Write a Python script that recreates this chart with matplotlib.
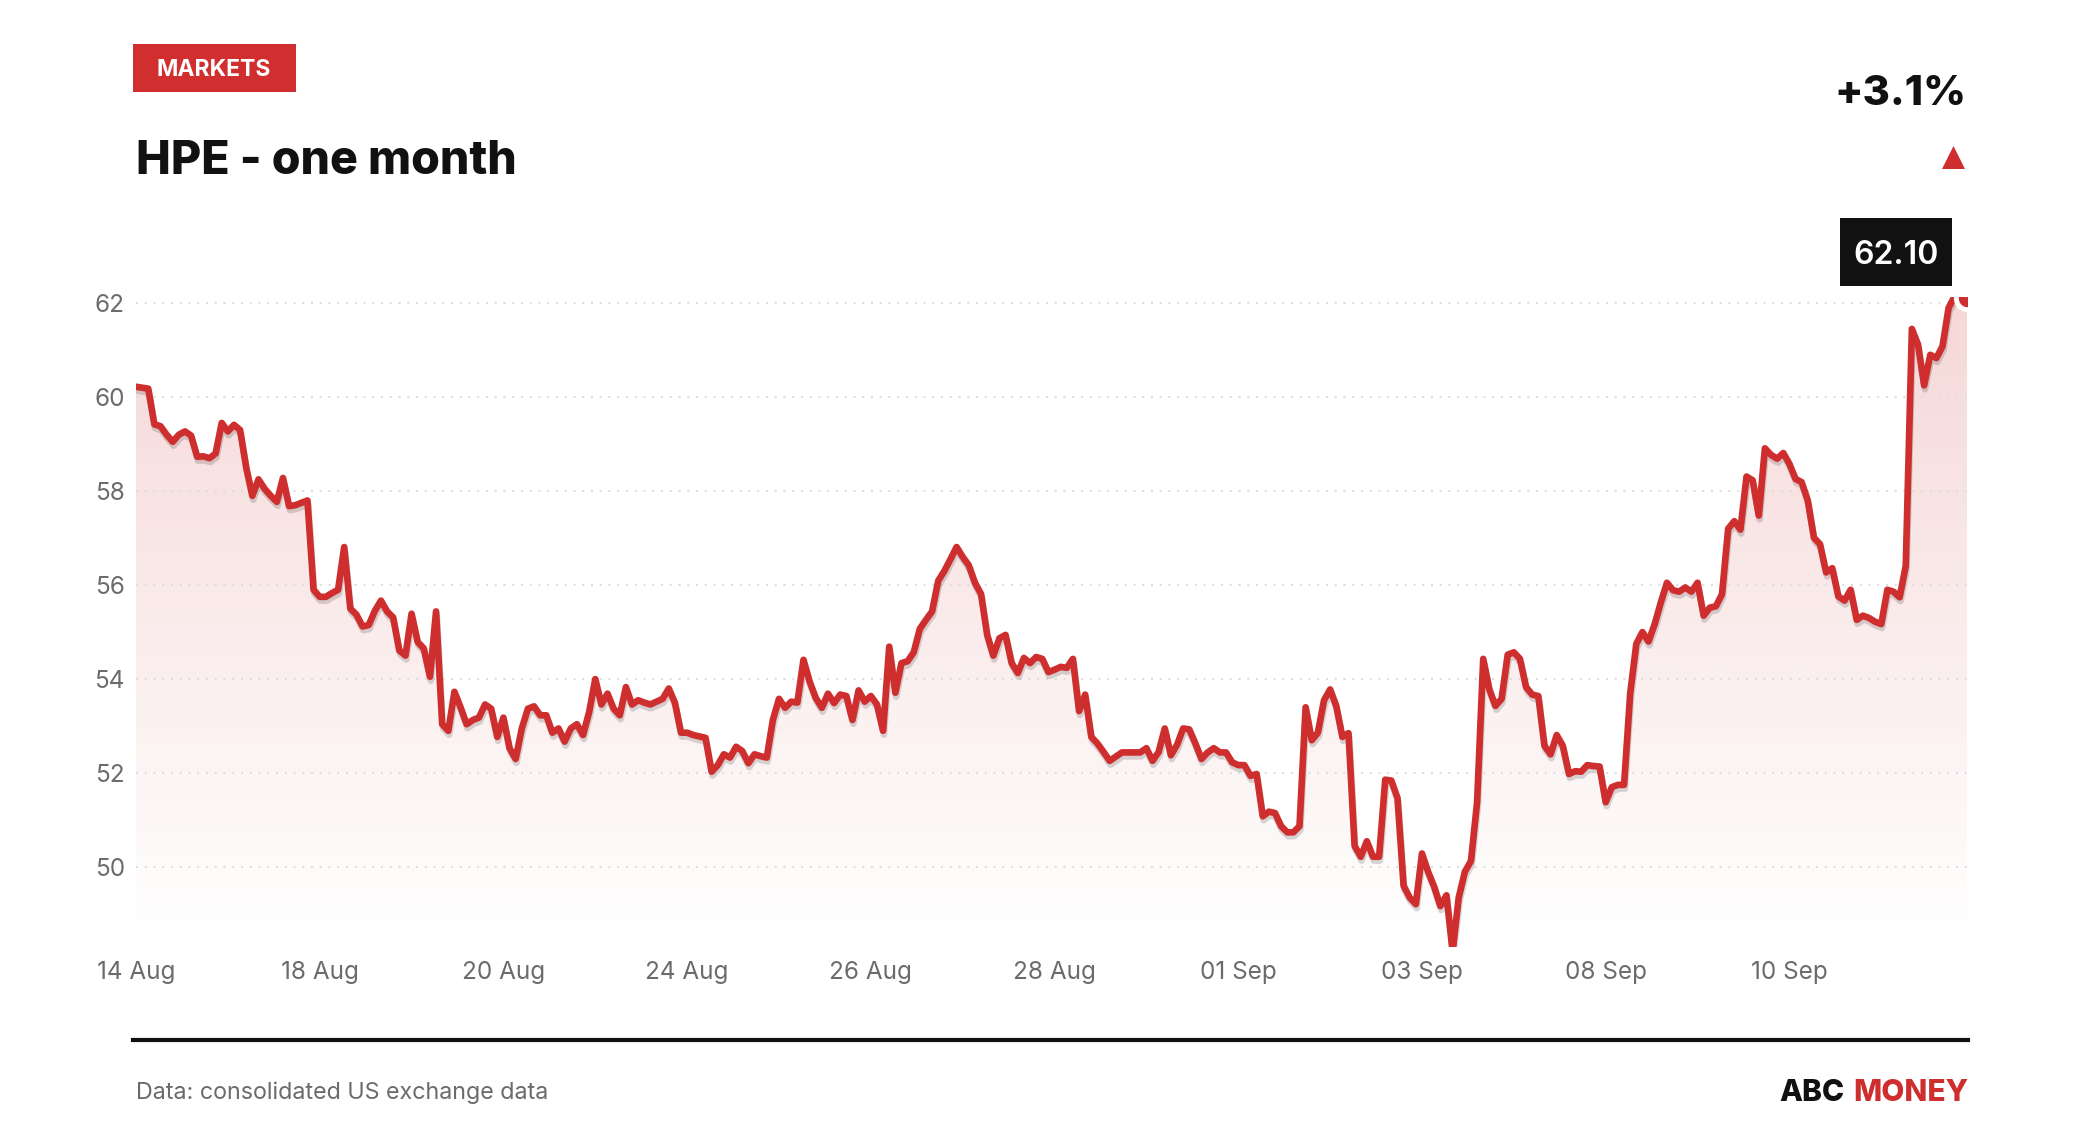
import matplotlib
matplotlib.use("Agg")
import matplotlib.pyplot as plt
import matplotlib.patheffects as pe
from matplotlib.patches import Rectangle, Polygon
import numpy as np

plt.rcParams['font.family'] = ['Inter', 'DejaVu Sans']

# HPE closing prices, one month
prices = [
    60.22, 60.20, 60.18, 59.42, 59.38, 59.20, 59.05, 59.20, 59.27, 59.18,
    58.73, 58.74, 58.70, 58.80, 59.45, 59.27, 59.41, 59.30, 58.50, 57.90,
    58.25, 58.05, 57.90, 57.77, 58.28, 57.68, 57.70, 57.75, 57.80, 55.90,
    55.75, 55.75, 55.83, 55.90, 56.81, 55.50, 55.37, 55.12, 55.15, 55.45,
    55.67, 55.44, 55.31, 54.61, 54.50, 55.39, 54.79, 54.65, 54.05, 55.44,
    53.04, 52.90, 53.73, 53.40, 53.04, 53.13, 53.18, 53.46, 53.37, 52.77,
    53.18, 52.53, 52.30, 52.95, 53.37, 53.42, 53.23, 53.23, 52.86, 52.95,
    52.67, 52.95, 53.04, 52.81, 53.30, 54.00, 53.46, 53.69, 53.37, 53.23,
    53.83, 53.46, 53.55, 53.50, 53.46, 53.52, 53.58, 53.80, 53.50, 52.86,
    52.86, 52.81, 52.78, 52.75, 52.03, 52.17, 52.40, 52.33, 52.56, 52.47,
    52.21, 52.40, 52.36, 52.33, 53.13, 53.58, 53.39, 53.52, 53.50, 54.41,
    53.95, 53.60, 53.39, 53.69, 53.49, 53.67, 53.64, 53.13, 53.76, 53.52,
    53.64, 53.46, 52.90, 54.69, 53.71, 54.34, 54.38, 54.57, 55.07, 55.26,
    55.44, 56.09, 56.30, 56.55, 56.81, 56.60, 56.42, 56.05, 55.81, 54.94,
    54.50, 54.87, 54.94, 54.34, 54.13, 54.45, 54.34, 54.47, 54.43, 54.15,
    54.20, 54.26, 54.24, 54.43, 53.32, 53.67, 52.77, 52.63, 52.45, 52.26,
    52.35, 52.44, 52.44, 52.44, 52.44, 52.53, 52.26, 52.45, 52.95, 52.38,
    52.60, 52.95, 52.93, 52.63, 52.30, 52.44, 52.53, 52.44, 52.44, 52.23,
    52.17, 52.17, 51.94, 51.98, 51.08, 51.18, 51.15, 50.87, 50.74, 50.74,
    50.87, 53.40, 52.70, 52.86, 53.55, 53.78, 53.43, 52.77, 52.85, 50.45,
    50.22, 50.55, 50.22, 50.22, 51.86, 51.84, 51.47, 49.60, 49.35, 49.21,
    50.29, 49.90, 49.58, 49.17, 49.40, 48.20, 49.35, 49.90, 50.13, 51.38,
    54.43, 53.78, 53.43, 53.58, 54.52, 54.57, 54.43, 53.83, 53.67, 53.64,
    52.58, 52.40, 52.81, 52.58, 51.98, 52.04, 52.03, 52.17, 52.15, 52.14,
    51.38, 51.70, 51.75, 51.75, 53.69, 54.75, 55.00, 54.80, 55.17, 55.63,
    56.05, 55.89, 55.86, 55.95, 55.86, 56.05, 55.35, 55.52, 55.55, 55.81,
    57.20, 57.36, 57.18, 58.31, 58.23, 57.48, 58.91, 58.77, 58.69, 58.81,
    58.58, 58.26, 58.19, 57.80, 57.01, 56.87, 56.27, 56.36, 55.76, 55.67,
    55.90, 55.26, 55.35, 55.30, 55.22, 55.17, 55.90, 55.86, 55.74, 56.41,
    61.45, 61.12, 60.25, 60.90, 60.83, 61.08, 61.90, 62.15, 62.12, 62.10,
]
date_labels = ['14 Aug', '18 Aug', '20 Aug', '24 Aug', '26 Aug',
               '28 Aug', '01 Sep', '03 Sep', '08 Sep', '10 Sep']
label_step = 30
y_ticks = [50, 52, 54, 56, 58, 60, 62]
last_price = '62.10'
change_text = '+3.1%'

RED = '#cf2e2e'
INK = '#111111'
GREY = '#6b6b6b'

W, H = 2080, 1140


def fx(px):
    return px / W


def fy(py):
    return 1 - py / H


fig = plt.figure(figsize=(W / 100, H / 100), dpi=100)
fig.patch.set_facecolor('white')

y_lo, y_hi = 48.3, 62.13
ax = fig.add_axes([fx(136), fy(947), fx(1967) - fx(136), fy(297) - fy(947)])
x = np.arange(len(prices))
ax.set_xlim(0, len(prices) - 1)
ax.set_ylim(y_lo, y_hi)

# gradient fill under the line
poly = ax.fill_between(x, prices, y_lo, color='none', lw=0)
grad = np.zeros((256, 2, 4))
grad[..., 0] = 207 / 255
grad[..., 1] = 46 / 255
grad[..., 2] = 46 / 255
grad[..., 3] = np.linspace(0.0, 0.19, 256)[:, None]
im = ax.imshow(grad, extent=[0, len(prices) - 1, y_lo, y_hi], origin='lower',
               aspect='auto', zorder=1, interpolation='bilinear')
im.set_clip_path(poly.get_paths()[0], transform=ax.transData)

line, = ax.plot(x, prices, color=RED, lw=4.8, solid_joinstyle='round',
                solid_capstyle='round', zorder=3)
line.set_path_effects([pe.SimpleLineShadow(offset=(0.6, -2.8), shadow_color='black', alpha=0.15),
                       pe.Normal()])
ax.plot(x[-1], prices[-1], 'o', ms=16, mfc=RED, mec='white', mew=3.5, zorder=4)

ax.set_axisbelow('line')
ax.yaxis.grid(True, color='#dcdcdc', linestyle=(0, (1, 3.5)), linewidth=1.4)
ax.xaxis.grid(False)
for s in ax.spines.values():
    s.set_visible(False)

ax.set_yticks(y_ticks)
ax.set_yticklabels([str(v) for v in y_ticks])
ax.set_xticks(np.arange(len(date_labels)) * label_step)
ax.set_xticklabels(date_labels)
ax.tick_params(axis='y', length=0, pad=8, labelsize=17.5, labelcolor=GREY)
ax.tick_params(axis='x', length=0, pad=10, labelsize=17.5, labelcolor=GREY)

# header
fig.add_artist(Rectangle((fx(133), fy(91.5)), fx(295.5) - fx(133), fy(44) - fy(91.5),
                         transform=fig.transFigure, color='#d12f2f', lw=0))
fig.text(fx(214), fy(76), 'MARKETS', ha='center', va='baseline', color='white',
         fontsize=16.5, fontweight='bold')
fig.text(fx(136), fy(174), 'HPE - one month', ha='left', va='baseline', color=INK,
         fontsize=33.5, fontweight='heavy')
fig.text(fx(1966), fy(105), change_text, ha='right', va='baseline', color=INK,
         fontsize=30, fontweight='heavy')
fig.add_artist(Polygon([(fx(1942), fy(169)), (fx(1965), fy(169)), (fx(1953.5), fy(146))],
                       closed=True, transform=fig.transFigure, color=RED, lw=0))

# last price tag
fig.add_artist(Rectangle((fx(1840), fy(286)), fx(1952) - fx(1840), fy(218) - fy(286),
                         transform=fig.transFigure, color=INK, lw=0))
fig.text(fx(1896), fy(264), last_price, ha='center', va='baseline', color='white',
         fontsize=23, fontweight='semibold')

# footer
fig.add_artist(plt.Line2D([fx(133), fx(1968)], [fy(1040), fy(1040)],
                          transform=fig.transFigure, color=INK, lw=3))
fig.text(fx(136), fy(1099), 'Data: consolidated US exchange data', ha='left',
         va='baseline', color=GREY, fontsize=16.8)
money = fig.text(fx(1968), fy(1101), 'MONEY', ha='right', va='baseline', color=RED,
                 fontsize=21.5, fontweight='heavy')
fig.canvas.draw()
bb = money.get_window_extent(renderer=fig.canvas.get_renderer())
fig.text((bb.x0 - 8) / W, fy(1101), 'ABC', ha='right', va='baseline', color=INK,
         fontsize=21.5, fontweight='heavy')

fig.savefig('out.png', dpi=100, facecolor='white')
